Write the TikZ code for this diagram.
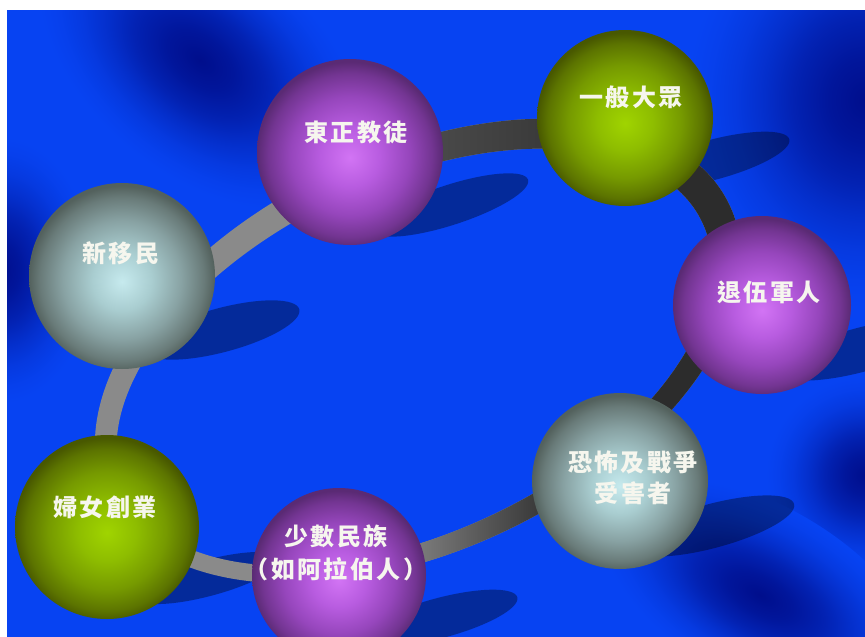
\documentclass[tikz,border=0pt]{standalone}
\usepackage{fontspec}
\newfontfamily\cjk[LetterSpace=10]{Noto Sans CJK TC}
\definecolor{bgbase}{HTML}{0743F2}
\definecolor{bgdark}{HTML}{000E8C}
\definecolor{ringlight}{HTML}{8A8A8A}
\definecolor{ringdark}{HTML}{2C2C2C}
\definecolor{ringdarkb}{HTML}{3A3A3A}
\definecolor{ringtopL}{HTML}{555555}
\definecolor{ringtopR}{HTML}{383838}
\definecolor{ringbotL}{HTML}{7A7A7A}
\definecolor{ringbotR}{HTML}{363636}
\definecolor{pu0}{HTML}{D274F4}
\definecolor{pu1}{HTML}{B85CE0}
\definecolor{pu2}{HTML}{9646BC}
\definecolor{pu3}{HTML}{733592}
\definecolor{pu4}{HTML}{5A2A74}
\definecolor{gr0}{HTML}{A0D400}
\definecolor{gr1}{HTML}{8EBD00}
\definecolor{gr2}{HTML}{769A00}
\definecolor{gr3}{HTML}{5C7400}
\definecolor{gr4}{HTML}{485800}
\definecolor{gy0}{HTML}{C6EAEE}
\definecolor{gy1}{HTML}{A9CDD0}
\definecolor{gy2}{HTML}{88A2A3}
\definecolor{gy3}{HTML}{697B79}
\definecolor{gy4}{HTML}{53615D}
\definecolor{txt}{HTML}{F6F6EE}
\colorlet{dk1}{bgdark!85!bgbase}
\colorlet{dk2}{bgdark!62!bgbase}
\colorlet{dk3}{bgdark!38!bgbase}
\colorlet{dk4}{bgdark!18!bgbase}
\colorlet{dk5}{bgdark!6!bgbase}
\colorlet{dk6}{bgdark!1!bgbase}
\pgfdeclareradialshading{purpleball}{\pgfpoint{0bp}{-1.5bp}}{color(0bp)=(pu0); color(8bp)=(pu1); color(16bp)=(pu2); color(22bp)=(pu3); color(25bp)=(pu4); color(50bp)=(pu4)}
\pgfdeclareradialshading{greenball}{\pgfpoint{0bp}{-1.5bp}}{color(0bp)=(gr0); color(8bp)=(gr1); color(16bp)=(gr2); color(22bp)=(gr3); color(25bp)=(gr4); color(50bp)=(gr4)}
\pgfdeclareradialshading{grayball}{\pgfpoint{0bp}{-1.5bp}}{color(0bp)=(gy0); color(8bp)=(gy1); color(16bp)=(gy2); color(22bp)=(gy3); color(25bp)=(gy4); color(50bp)=(gy4)}
\pgfdeclareradialshading{darkblob}{\pgfpoint{0bp}{0bp}}{color(0bp)=(bgdark); color(5bp)=(dk1); color(10bp)=(dk2); color(14bp)=(dk3); color(18bp)=(dk4); color(21.5bp)=(dk5); color(24bp)=(dk6); color(25bp)=(bgbase); color(50bp)=(bgbase)}
\tikzset{
  sphere/.style={circle, inner sep=0pt, draw=none, shade, shading=#1},
  shadowe/.style={fill=black, opacity=0.36},
  lbl/.style={text=txt, font=\cjk\bfseries\fontsize{24}{31}\selectfont, align=center, inner sep=0pt},
  blobdark/.style={shade, shading=darkblob}
}
\begin{document}
\begin{tikzpicture}[x=1pt,y=-1pt]
\useasboundingbox (0,0) rectangle (865,637);
% background
\begin{scope}
  \clip (7,10) rectangle (865,637);
  \fill[bgbase] (7,10) rectangle (865,637);
  \begin{scope}[transform canvas={shift={(200,60)}, rotate=-40}]
    \shade[blobdark] (0,0) ellipse [x radius=190, y radius=115];
  \end{scope}
  \shade[blobdark] (865,100) ellipse [x radius=180, y radius=210];
  \shade[blobdark] (0,270) ellipse [x radius=95, y radius=135];
  \shade[blobdark] (865,475) circle [radius=100];
  \begin{scope}[transform canvas={shift={(760,595)}, rotate=-30}]
    \shade[blobdark] (0,0) ellipse [x radius=180, y radius=90];
  \end{scope}
  % shadows of the spheres
  \fill[shadowe, rotate around={18:(450,205)}] (450,205) ellipse [x radius=82, y radius=20];
  \fill[shadowe, rotate around={15:(712,160)}] (712,160) ellipse [x radius=80, y radius=20];
  \fill[shadowe, rotate around={15:(860,350)}] (860,350) ellipse [x radius=85, y radius=22];
  \fill[shadowe, rotate around={15:(712,526)}] (712,526) ellipse [x radius=85, y radius=22];
  \fill[shadowe, rotate around={15:(440,618)}] (440,618) ellipse [x radius=80, y radius=20];
  \fill[shadowe, rotate around={15:(208,578)}] (208,578) ellipse [x radius=75, y radius=18];
  \fill[shadowe, rotate around={15:(222,330)}] (222,330) ellipse [x radius=80, y radius=22];
\end{scope}
% ring
\begin{scope}
  \clip[shift={(418,351)}, rotate=25] (0,0) ellipse [x radius=344, y radius=200]
        (312,4) arc[start angle=0, end angle=-360, x radius=318, y radius=176];
  \fill[ringlight] (0,0) rectangle (865,637);
  \shade[left color=ringtopL, right color=ringtopR] (350,60) rectangle (560,225);
  \fill[ringdark] (560,0) rectangle (865,450);
  \fill[ringdarkb] (545,450) rectangle (865,637);
  \shade[left color=ringbotL, right color=ringbotR] (420,455) rectangle (545,637);
\end{scope}
% spheres
\begin{scope}
  \clip (7,10) rectangle (865,637);
  \node[sphere=purpleball, minimum size=186pt] (s1) at (350,152) {};
  \node[sphere=greenball,  minimum size=176pt] (s2) at (625,118) {};
  \node[sphere=purpleball, minimum size=178pt] (s3) at (762,305) {};
  \node[sphere=grayball,   minimum size=176pt] (s4) at (620,481) {};
  \node[sphere=purpleball, minimum size=174pt] (s5) at (339,575) {};
  \node[sphere=greenball,  minimum size=184pt] (s6) at (107,527) {};
  \node[sphere=grayball,   minimum size=186pt] (s7) at (122,276) {};
\end{scope}
% labels
\node[lbl] (t1) at (356,132) {東正教徒};
\node[lbl] (t2) at (631,97) {一般大眾};
\node[lbl] (t3) at (769,292) {退伍軍人};
\node[lbl] (t4) at (633,478) {恐怖及戰爭\\受害者};
\node[lbl] (t5) at (336,553) {少數民族\\[2pt]（如阿拉伯人）};
\node[lbl] (t6) at (105,507) {婦女創業};
\node[lbl] (t7) at (121,253) {新移民};
\end{tikzpicture}
\end{document}
